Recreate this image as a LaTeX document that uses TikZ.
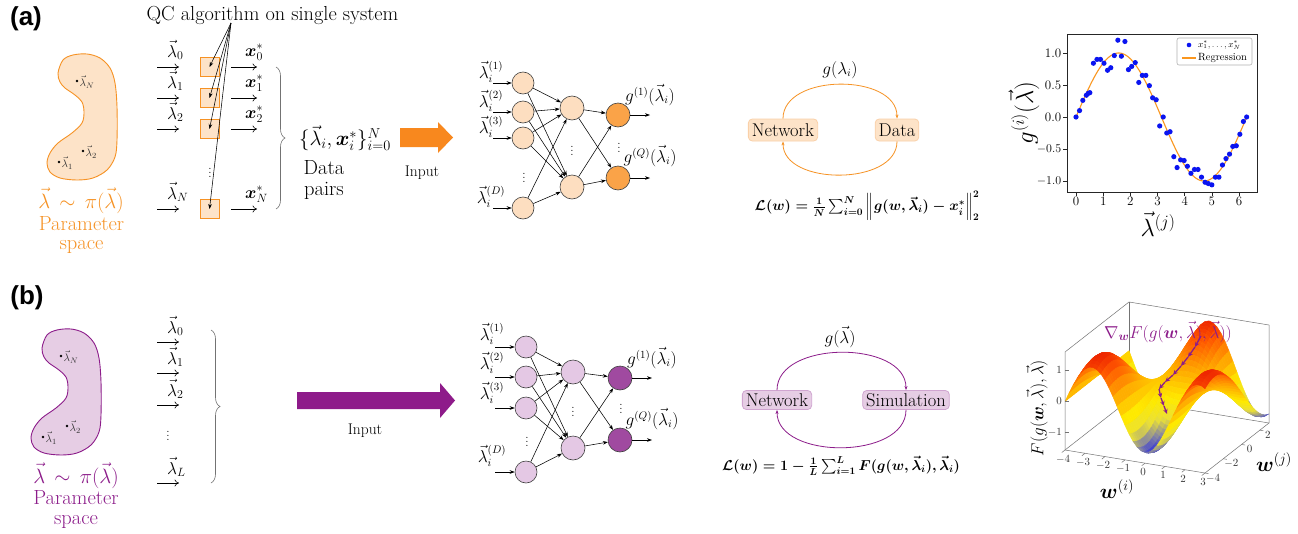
\documentclass[tikz,border=0pt]{standalone}
\usepackage{amsmath,amssymb,bm}
\usepackage{fontspec}
\newfontfamily\panelfont{Liberation Sans}
\usetikzlibrary{arrows.meta,decorations.pathreplacing}

% colours
\definecolor{orA}{RGB}{246,146,36}
\definecolor{orFill}{RGB}{253,227,200}
\definecolor{orBox}{RGB}{250,208,168}
\definecolor{orNode}{RGB}{253,222,192}
\definecolor{orOut}{RGB}{250,163,72}
\definecolor{orArrow}{RGB}{248,136,30}
\definecolor{puA}{RGB}{140,28,138}
\definecolor{puFill}{RGB}{230,205,228}
\definecolor{puBox}{RGB}{208,165,208}
\definecolor{puNode}{RGB}{228,200,228}
\definecolor{puOut}{RGB}{160,74,160}
\definecolor{puArrow}{RGB}{142,27,138}
\definecolor{dotblue}{RGB}{10,20,240}
\definecolor{regorange}{RGB}{250,150,30}

\tikzset{
  every node/.style={inner sep=1pt},
  panel/.style={font=\panelfont\bfseries\fontsize{26}{30}\selectfont, inner sep=0pt},
  txt/.style={font=\fontsize{16}{19}\selectfont},
  armtxt/.style={font=\fontsize{18}{21}\selectfont},
  bigtxt/.style={font=\fontsize{20.5}{24}\selectfont},
  qctxt/.style={font=\fontsize{20.3}{24}\selectfont},
  smalltxt/.style={font=\fontsize{11}{13}\selectfont},
  tinytxt/.style={font=\fontsize{9}{11}\selectfont},
  dotstxt/.style={font=\fontsize{12}{14}\selectfont, inner sep=0pt},
  ticktxt/.style={font=\fontsize{13}{15}\selectfont},
  tickthree/.style={font=\fontsize{11}{13}\selectfont, text=black!80},
  inputtxt/.style={font=\fontsize{15.5}{18}\selectfont},
  glypharrow/.style={-{To[length=4.5pt,width=7pt]}, line width=0.6pt},
  ptarrow/.style={-{Stealth[length=5pt,width=3.6pt]}, line width=0.55pt},
  qcbox/.style={draw=orA, fill=orFill, line width=0.7pt, minimum size=19pt, inner sep=0pt},
  bracestyle/.style={decorate, decoration={brace, amplitude=9pt}, draw=black!55, line width=0.6pt},
  nnin/.style={circle, draw=black!75, line width=0.6pt, minimum size=22pt, inner sep=0pt},
  nnbig/.style={nnin, minimum size=24pt},
  loopbox/.style={rounded corners=4pt, line width=0.8pt, minimum height=22pt, inner xsep=3.5pt, inner ysep=1pt, font=\fontsize{18.5}{21}\selectfont},
  looparrow/.style={-{Stealth[length=4pt,width=3pt]}, line width=0.8pt},
  formula/.style={font=\fontsize{14.6}{17}\selectfont\boldmath},
  boxline/.style={draw=black!55, line width=0.5pt},
  descent/.style={-{Stealth[length=5pt,width=4.5pt]}, line width=1.3pt, draw=puA},
}

% height of the fidelity landscape
\newcommand\landF[2]{-1.4*cos(deg(1.18*(#1)))*cos(deg(0.5*((#2)+3)))}

\begin{document}
\begin{tikzpicture}[x=1pt,y=-1pt]
\useasboundingbox (0,0) rectangle (1298,533);
\fill[white] (0,0) rectangle (1298,533);

%==================== panel (a) ====================
\node[panel] (lbla) at (26,19) {(a)};

% parameter space
\filldraw[draw=orA, fill=orFill, line width=0.9pt] plot[smooth cycle, tension=0.55] coordinates {
 (58,73) (63,60) (73,55) (87,54) (100,58) (110,68) (115,83) (117,107) (117,140) (115,157)
 (107,170) (93,178) (77,180) (60,178) (50,172) (47,163) (50,153) (58,143) (72,133) (82,123)
 (84,112) (82,102) (75,95) (65,88) (60,82)};
\fill (77,81) circle[radius=1.4pt]; \node[smalltxt, anchor=west, text=black!80] (pNa) at (78.5,82) {$\vec\lambda_N$};
\fill (83,151) circle[radius=1.4pt]; \node[smalltxt, anchor=west, text=black!80] (p2a) at (84.5,152) {$\vec\lambda_2$};
\fill (59,162) circle[radius=1.4pt]; \node[smalltxt, anchor=west, text=black!80] (p1a) at (60.5,163) {$\vec\lambda_1$};
\node[bigtxt, text=orA, anchor=base] (dista) at (81,208) {$\vec\lambda\,\sim\,\pi(\vec\lambda)$};
\node[bigtxt, text=orA, anchor=base] (psa) at (81.5,230) {Parameter};
\node[bigtxt, text=orA, anchor=base] (psb) at (81.5,249) {space};

% quantum-classical algorithm on each sample
\node[qctxt, anchor=base] (qctitle) at (272.5,20) {QC algorithm on single system};
\coordinate (qcsrc) at (231,23);
\foreach \n/\y/\lab in {0/67/0, 1/98/1, 2/129/2, 3/209/N} {
  \node[qcbox] (qb\n) at (209.5,\y) {};
  \coordinate (li\n) at (157,\y);
  \coordinate (lo\n) at (179,\y);
  \draw[glypharrow] (li\n) -- (lo\n);
  \node[armtxt, anchor=base west] (ll\n) at (166,{\y-10}) {$\vec\lambda_{\lab}$};
  \coordinate (xi\n) at (231,\y);
  \coordinate (xo\n) at (257,\y);
  \draw[glypharrow] (xi\n) -- (xo\n);
  \node[armtxt, anchor=base west] (xl\n) at (244,{\y-11}) {$\bm{x}_{\lab}^{*}$};
}
\foreach \n in {0,...,3} \draw[ptarrow] (qcsrc) -- (qb\n.center);
\node[dotstxt] (qdots) at (210,170) {$\vdots$};

\coordinate (brt) at (276,67);
\coordinate (brb) at (276,209);
\draw[bracestyle] (brt) -- (brb);
\node[bigtxt] (pairset) at (345,138) {$\{\vec\lambda_i,\bm{x}_i^{*}\}_{i=0}^{N}$};
\node[bigtxt, anchor=base] (datatxt) at (324,174) {Data};
\node[bigtxt, anchor=base] (pairstxt) at (324,195) {pairs};

% input arrow
\fill[orArrow] (400,128) -- (438,128) -- (438,122) -- (453,137.5) -- (438,153) -- (438,147) -- (400,147) -- cycle;
\node[inputtxt] (inpa) at (422,173) {Input};

% network
\foreach \n/\y in {1/83,2/112,3/138,4/208} {
  \node[nnin, fill=orNode] (ia\n) at (523,\y) {};
  \coordinate (ias\n) at (493,\y);
  \draw[ptarrow] (ias\n) -- (ia\n);
}
\node[nnbig, fill=orNode] (ha1) at (572,108) {};
\node[nnbig, fill=orNode] (ha2) at (572,187) {};
\node[nnbig, fill=orOut] (oa1) at (618,115) {};
\node[nnbig, fill=orOut] (oa2) at (618,178) {};
\foreach \i in {1,...,4} \foreach \h in {1,2} \draw[ptarrow] (ia\i) -- (ha\h);
\foreach \h in {1,2} \foreach \o in {1,2} \draw[ptarrow] (ha\h) -- (oa\o);
\coordinate (oae1) at (650,115); \coordinate (oae2) at (650,178);
\draw[ptarrow] (oa1) -- (oae1);
\draw[ptarrow] (oa2) -- (oae2);
\node[txt] (lia1) at (491,72) {$\vec\lambda_i^{(1)}$};
\node[txt] (lia2) at (491,101) {$\vec\lambda_i^{(2)}$};
\node[txt] (lia3) at (491,127) {$\vec\lambda_i^{(3)}$};
\node[txt] (lia4) at (491,197) {$\vec\lambda_i^{(D)}$};
\node[dotstxt] (dia) at (524,175) {$\vdots$};
\node[dotstxt] (dha) at (572,148) {$\vdots$};
\node[dotstxt] (doa) at (619,145) {$\vdots$};
\node[txt] (goa1) at (650,95) {$g^{(1)}(\vec\lambda_i)$};
\node[txt] (goa2) at (650,156) {$g^{(Q)}(\vec\lambda_i)$};

% training loop
\node[loopbox, fill=orFill, draw=orBox] (neta) at (783,130) {Network};
\node[loopbox, fill=orFill, draw=orBox] (data) at (897,130) {Data};
\draw[looparrow, draw=orA] (neta.north) .. controls (783,73) and (897,73) .. (data.north);
\draw[looparrow, draw=orA] (data.south) .. controls (897,186) and (783,186) .. (neta.south);
\node[txt] (gla) at (840,70) {$g(\lambda_i)$};
\node[formula] (lossa) at (867,206) {$\mathcal{L}(w)=\frac{1}{N}\sum_{i=0}^{N}\Big\|g(w,\vec\lambda_i)-\bm{x}_i^{*}\Big\|_2^2$};

% regression plot
\begin{scope}[shift={(1076,117)}, x=27.17pt, y=64pt]
  \draw[regorange, line width=1.1pt] plot[domain=0:6.2832, samples=120] (\x,{sin(\x r)});
  \foreach \a/\b in {0/0, 0.13/0.1, 0.25/0.26, 0.38/0.34, 0.45/0.37, 0.51/0.38, 0.64/0.84, 0.77/0.9,
    0.9/0.9, 1.03/0.84, 1.16/0.73, 1.28/0.77, 1.41/0.96, 1.54/1.2, 1.67/0.95, 1.8/1.18, 1.93/0.74,
    2.05/0.79, 2.18/0.85, 2.31/0.54, 2.44/0.65, 2.57/0.65, 2.7/0.49, 2.82/0.3, 2.95/0.27, 3.08/-0.14,
    3.21/0.0, 3.34/-0.25, 3.46/-0.23, 3.6/-0.62, 3.72/-0.79, 3.85/-0.67, 3.98/-0.68, 4.1/-0.77,
    4.23/-0.88, 4.36/-0.82, 4.49/-0.82, 4.62/-0.94, 4.75/-1.02, 4.87/-1.04, 5.0/-1.06, 5.13/-0.94,
    5.26/-0.94, 5.39/-0.75, 5.52/-0.65, 5.65/-0.58, 5.77/-0.46, 5.9/-0.45, 6.03/-0.27, 6.16/-0.07, 6.28/0.0}
    \fill[dotblue] (\a,\b) circle[radius=2.6pt];
  \draw[black!85, line width=0.8pt] (-0.331,-1.172) rectangle (6.662,1.297);
  \foreach \t in {0,...,6} {
    \draw[black!85, line width=0.7pt] (\t,-1.172) -- ++(0,-4pt);
    \node[ticktxt, anchor=north] (xt\t) at (\t,-1.23) {\t};
  }
  \foreach \t/\l [count=\c] in {-1/$-1.0$, -0.5/$-0.5$, 0/0.0, 0.5/0.5, 1/1.0} {
    \draw[black!85, line width=0.7pt] (-0.331,\t) -- ++(-4pt,0);
    \node[ticktxt, anchor=east] (yt\c) at (-0.5,\t) {\l};
  }
\end{scope}
\draw[black!30, line width=0.6pt, fill=white, rounded corners=2pt] (1177,38) rectangle (1252,65);
\fill[dotblue] (1189,45) circle[radius=2.3pt];
\node[tinytxt, anchor=west] (lega) at (1197,45) {$x_1^*,\ldots,x_N^*$};
\coordinate (legl) at (1182,58); \coordinate (legr) at (1196,58);
\draw[regorange, line width=1.1pt] (legl) -- (legr);
\node[font=\fontsize{10.5}{12}\selectfont, anchor=west] (legb) at (1197,58) {Regression};
\node[font=\fontsize{23}{26}\selectfont, rotate=90] (ylab) at (1024,113) {$g^{(i)}(\vec\lambda)$};
\node[font=\fontsize{23}{26}\selectfont] (xlab) at (1158,224) {$\vec\lambda^{(j)}$};

%==================== panel (b) ====================
\node[panel] (lblb) at (27,298) {(b)};

\begin{scope}[shift={(-16,275)}]
\filldraw[draw=puA, fill=puFill, line width=0.9pt] plot[smooth cycle, tension=0.55] coordinates {
 (58,73) (63,60) (73,55) (87,54) (100,58) (110,68) (115,83) (117,107) (117,140) (115,157)
 (107,170) (93,178) (77,180) (60,178) (50,172) (47,163) (50,153) (58,143) (72,133) (82,123)
 (84,112) (82,102) (75,95) (65,88) (60,82)};
\fill (77,81) circle[radius=1.4pt]; \node[smalltxt, anchor=west, text=black!80] (pNb) at (78.5,82) {$\vec\lambda_N$};
\fill (83,151) circle[radius=1.4pt]; \node[smalltxt, anchor=west, text=black!80] (p2b) at (84.5,152) {$\vec\lambda_2$};
\fill (59,162) circle[radius=1.4pt]; \node[smalltxt, anchor=west, text=black!80] (p1b) at (60.5,163) {$\vec\lambda_1$};
\end{scope}
\node[bigtxt, text=puA, anchor=base] (distb) at (76,483) {$\vec\lambda\,\sim\,\pi(\vec\lambda)$};
\node[bigtxt, text=puA, anchor=base] (psc) at (76,504) {Parameter};
\node[bigtxt, text=puA, anchor=base] (psd) at (76,524) {space};

\foreach \n/\y/\lab in {0/342/0, 1/373/1, 2/405/2, 3/483/L} {
  \coordinate (mi\n) at (157,\y);
  \coordinate (mo\n) at (179,\y);
  \draw[glypharrow] (mi\n) -- (mo\n);
  \node[armtxt, anchor=base west] (ml\n) at (166,{\y-9}) {$\vec\lambda_{\lab}$};
}
\node[dotstxt] (mdots) at (168,433) {$\vdots$};
\coordinate (bbt) at (211,330);
\coordinate (bbb) at (211,483);
\draw[bracestyle] (bbt) -- (bbb);

\fill[puArrow] (297,392) -- (440,392) -- (440,383) -- (455,400.5) -- (440,418) -- (440,409) -- (297,409) -- cycle;
\node[inputtxt] (inpb) at (365,431) {Input};

% network
\foreach \n/\y in {1/347,2/377,3/408,4/472} {
  \node[nnin, fill=puNode] (ib\n) at (526,\y) {};
  \coordinate (ibs\n) at (495,\y);
  \draw[ptarrow] (ibs\n) -- (ib\n);
}
\node[nnbig, fill=puNode] (hb1) at (573,372) {};
\node[nnbig, fill=puNode] (hb2) at (573,448) {};
\node[nnbig, fill=puOut] (ob1) at (620,378) {};
\node[nnbig, fill=puOut] (ob2) at (620,440) {};
\foreach \i in {1,...,4} \foreach \h in {1,2} \draw[ptarrow] (ib\i) -- (hb\h);
\foreach \h in {1,2} \foreach \o in {1,2} \draw[ptarrow] (hb\h) -- (ob\o);
\coordinate (obe1) at (652,378); \coordinate (obe2) at (652,440);
\draw[ptarrow] (ob1) -- (obe1);
\draw[ptarrow] (ob2) -- (obe2);
\node[txt] (lib1) at (492,334) {$\vec\lambda_i^{(1)}$};
\node[txt] (lib2) at (492,363) {$\vec\lambda_i^{(2)}$};
\node[txt] (lib3) at (492,393) {$\vec\lambda_i^{(3)}$};
\node[txt] (lib4) at (492,456) {$\vec\lambda_i^{(D)}$};
\node[dotstxt] (dib) at (527,439) {$\vdots$};
\node[dotstxt] (dhb) at (573,409) {$\vdots$};
\node[dotstxt] (dob) at (621,406) {$\vdots$};
\node[txt] (gob1) at (652,358) {$g^{(1)}(\vec\lambda_i)$};
\node[txt] (gob2) at (652,419) {$g^{(Q)}(\vec\lambda_i)$};

% training loop
\node[loopbox, fill=puFill, draw=puBox, minimum height=19pt] (netb) at (777,400) {Network};
\node[loopbox, fill=puFill, draw=puBox, minimum height=19pt] (simb) at (906,400) {Simulation};
\draw[looparrow, draw=puA] (netb.north) .. controls (777,340) and (906,340) .. (simb.north);
\draw[looparrow, draw=puA] (simb.south) .. controls (906,460) and (777,460) .. (netb.south);
\node[txt] (glb) at (840,337) {$g(\vec\lambda)$};
\node[formula] (lossb) at (841,466) {$\mathcal{L}(w)=1-\frac{1}{L}\sum_{i=1}^{L}F(g(w,\vec\lambda_i),\vec\lambda_i)$};

% fidelity landscape: box, surface patches (back to front), ticks
\coordinate (bA) at (1065,450); \coordinate (bB) at (1205,473);
\coordinate (bC) at (1269,423); \coordinate (bD) at (1129,400);
\coordinate (tA) at (1065,352); \coordinate (tC) at (1269,325); \coordinate (tD) at (1129,302);
\draw[boxline] (bD) -- (tD);
\draw[boxline] (bA) -- (bD) -- (bC);
\foreach \j in {0,...,34} {
  \foreach \i in {0,...,34} {
    \pgfmathsetmacro\xa{-4+\i*0.2}
    \pgfmathsetmacro\xb{\xa+0.2}
    \pgfmathsetmacro\ya{3-\j*0.2}
    \pgfmathsetmacro\yb{\ya-0.2}
    \pgfmathsetmacro\fa{\landF{\xa}{\ya}}
    \pgfmathsetmacro\fb{\landF{\xb}{\ya}}
    \pgfmathsetmacro\fc{\landF{\xb}{\yb}}
    \pgfmathsetmacro\fd{\landF{\xa}{\yb}}
    \pgfmathsetmacro\tv{max(0,min(7,((\fa+\fb+\fc+\fd)/4+1.45)/2.9*7))}
    \pgfmathtruncatemacro\cr{\tv<0.6 ? 40+150*\tv : (\tv<1.5 ? 130+117*(\tv-0.6) : (\tv<2.6 ? 235+18*(\tv-1.5) : (\tv<6 ? 255 : 255-20*(\tv-6))))}
    \pgfmathtruncatemacro\cg{\tv<0.6 ? 40+150*\tv : (\tv<1.5 ? 130+106*(\tv-0.6) : (\tv<2.6 ? 225+9*(\tv-1.5) : (\tv<4.4 ? 235-70*(\tv-2.6)/1.8 : (\tv<6 ? 165-80*(\tv-4.4)/1.6 : 85-55*(\tv-6)))))}
    \pgfmathtruncatemacro\cb{\tv<0.6 ? 225-100*\tv : (\tv<1.5 ? 165-110*(\tv-0.6)/0.9 : (\tv<2.6 ? 55-50*(\tv-1.5) : 0))}
    \definecolor{patch}{RGB}{\cr,\cg,\cb}
    \filldraw[fill=patch, draw=patch, line width=0.45pt, line join=round]
      ({1181.6+20*\xa+9.143*\ya},{385.6+3.286*\xa-7.143*\ya-31.2*\fa}) --
      ({1181.6+20*\xb+9.143*\ya},{385.6+3.286*\xb-7.143*\ya-31.2*\fb}) --
      ({1181.6+20*\xb+9.143*\yb},{385.6+3.286*\xb-7.143*\yb-31.2*\fc}) --
      ({1181.6+20*\xa+9.143*\yb},{385.6+3.286*\xa-7.143*\yb-31.2*\fd}) -- cycle;
  }
}
\draw[boxline] (tA) -- (tD) -- (tC);
\draw[boxline] (tA) -- (bA) -- (bB) -- (bC) -- (tC);
\foreach \k [count=\c] in {-4,...,3} {
  \coordinate (wi\c) at ({1065+20*(\k+4)},{450+3.286*(\k+4)});
  \draw[boxline] (wi\c) -- ++(-3.2,2.5);
  \node[tickthree] (wil\c) at ({1063+20*(\k+4)},{459+3.286*(\k+4)}) {$\k$};
}
\foreach \k [count=\c] in {-4,-2,0,2} {
  \coordinate (wj\c) at ({1205+9.143*(\k+4)},{473-7.143*(\k+4)});
  \draw[boxline] (wj\c) -- ++(3.5,0.6);
  \node[tickthree] (wjl\c) at ({1213+9.143*(\k+4)},{478-7.143*(\k+4)}) {$\k$};
}
\foreach \k [count=\c] in {-1,0,1} {
  \coordinate (zt\c) at (1065,{450-31.2*(\k+1.57)});
  \draw[boxline] (zt\c) -- ++(3.5,0);
  \node[tickthree, anchor=east] (ztl\c) at (1063,{450-31.2*(\k+1.57)}) {$\k$};
}
\node[font=\fontsize{19}{22}\selectfont, rotate=90] (flab) at (1037,408) {$F(g(\bm{w},\vec\lambda),\vec\lambda)$};
\node[font=\fontsize{20}{23}\selectfont] (wilab) at (1117,489) {$\bm{w}^{(i)}$};
\node[font=\fontsize{20}{23}\selectfont] (wjlab) at (1274,462) {$\bm{w}^{(j)}$};
\node[font=\fontsize{18}{21}\selectfont, text=puA] (gradlab) at (1168,332) {$\nabla_{\bm{w}}F(g(\bm{w},\vec\lambda),\vec\lambda))$};
\foreach \n/\p in {0/{1201,336}, 1/{1195,347}, 2/{1188,357}, 3/{1181,366}, 4/{1173,375},
                   5/{1165,382}, 6/{1159,389}, 7/{1161,398}, 8/{1164,406}, 9/{1167,414}}
  \coordinate (gd\n) at (\p);
\foreach \a/\b in {0/1,1/2,2/3,3/4,4/5,5/6,6/7,7/8,8/9} \draw[descent] (gd\a) -- (gd\b);
\end{tikzpicture}
\end{document}
